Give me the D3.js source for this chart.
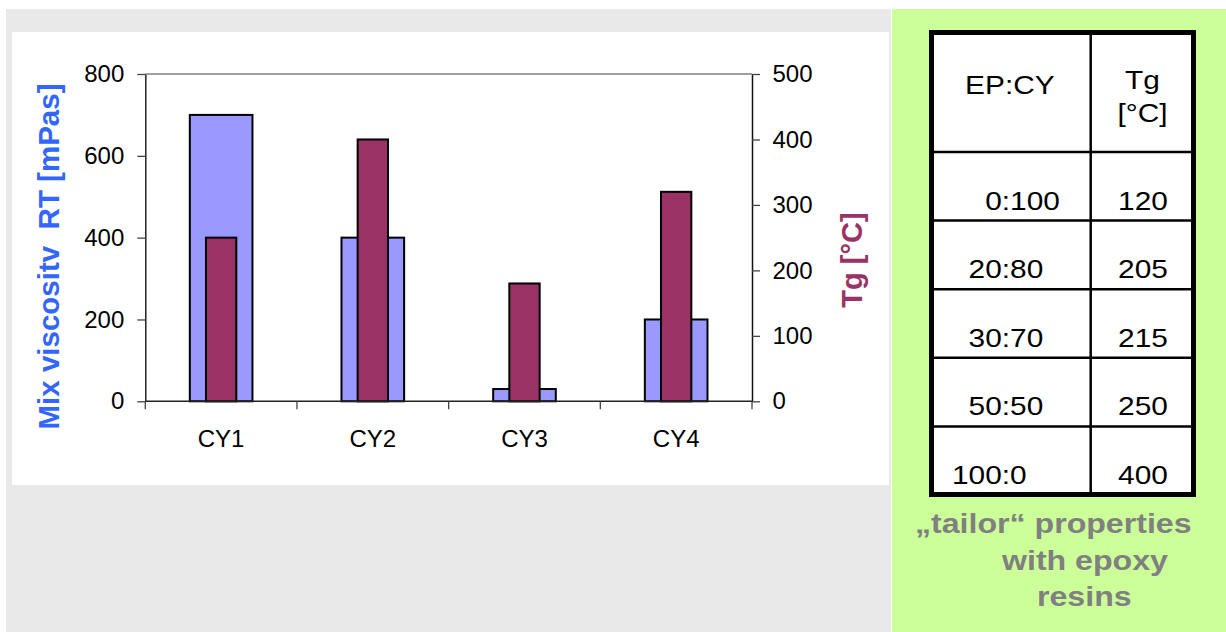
<!DOCTYPE html>
<html>
<head>
<meta charset="utf-8">
<script src="https://cdn.jsdelivr.net/npm/d3@7"></script>
<style>
  html, body { margin: 0; padding: 0; background: #ffffff; }
  svg { display: block; }
  text { font-family: "Liberation Sans", Arial, sans-serif; }
</style>
</head>
<body>
<svg id="chart" width="1226" height="632"></svg>
<script>
// Chart data
const categories = ["CY1", "CY2", "CY3", "CY4"];
const viscosity = [700, 400, 30, 200];      // mPas, left axis
const tg = [250, 400, 180, 320];            // °C, right axis
const leftTicks = [0, 200, 400, 600, 800];
const rightTicks = [0, 100, 200, 300, 400, 500];

// Table data (EP:CY mixing ratio vs. Tg)
const ratioLabels = ["    0:100", "  20:80", "  30:70", "  50:50", "100:0"];
const ratioTg = [120, 205, 215, 250, 400];
const tableHeader = ["EP:CY", "Tg", "[°C]"];
const footerLines = ["„tailor“ properties", "with epoxy", "resins"];

const svg = d3.select("#chart");

// Backgrounds
svg.append("rect").attr("x", 6).attr("y", 9).attr("width", 885).attr("height", 623).attr("fill", "#e9e9e9");
svg.append("rect").attr("x", 12).attr("y", 32).attr("width", 877).attr("height", 453).attr("fill", "#ffffff");
svg.append("rect").attr("x", 892).attr("y", 9).attr("width", 334).attr("height", 623).attr("fill", "#ccff99");

// Plot area
const plot = { left: 145.3, right: 752, top: 74, bottom: 401.3 };

const x = d3.scaleBand().domain(categories).range([plot.left, plot.right]).paddingInner(0).paddingOuter(0);
const yL = d3.scaleLinear().domain([0, 800]).range([plot.bottom, plot.top]);
const yR = d3.scaleLinear().domain([0, 500]).range([plot.bottom, plot.top]);

// Top border of plot area
svg.append("line")
  .attr("x1", plot.left).attr("x2", plot.right)
  .attr("y1", plot.top).attr("y2", plot.top)
  .attr("stroke", "#808080").attr("stroke-width", 1.5);

// Viscosity bars (wide)
const wideW = x.step() * 0.413;
svg.append("g").selectAll("rect").data(categories).join("rect")
  .attr("x", (d) => x(d) + x.bandwidth() / 2 - wideW / 2)
  .attr("y", (d, i) => yL(viscosity[i]))
  .attr("width", wideW)
  .attr("height", (d, i) => plot.bottom - yL(viscosity[i]))
  .attr("fill", "#9999ff")
  .attr("stroke", "#000").attr("stroke-width", 2);

// Tg bars (narrow, in front)
const narrowW = x.step() * 0.2;
svg.append("g").selectAll("rect").data(categories).join("rect")
  .attr("x", (d) => x(d) + x.bandwidth() / 2 - narrowW / 2)
  .attr("y", (d, i) => yR(tg[i]))
  .attr("width", narrowW)
  .attr("height", (d, i) => plot.bottom - yR(tg[i]))
  .attr("fill", "#993366")
  .attr("stroke", "#000").attr("stroke-width", 2);

// Left axis
const axL = svg.append("g").attr("transform", `translate(${plot.left},0)`)
  .call(d3.axisLeft(yL).tickValues(leftTicks).tickSizeInner(8).tickSizeOuter(0).tickPadding(13));
axL.select(".domain").attr("stroke", "#222").attr("stroke-width", 1.5);
axL.selectAll(".tick line").attr("stroke", "#444").attr("stroke-width", 1.3);
axL.selectAll(".tick text").attr("font-size", 24).attr("fill", "#000")
  .attr("font-family", "Liberation Sans, Arial, sans-serif");

// Right axis
const axR = svg.append("g").attr("transform", `translate(${plot.right},0)`)
  .call(d3.axisRight(yR).tickValues(rightTicks).tickSizeInner(8).tickSizeOuter(0).tickPadding(12.5));
axR.select(".domain").attr("stroke", "#111").attr("stroke-width", 1.5);
axR.selectAll(".tick line").attr("stroke", "#444").attr("stroke-width", 1.3);
axR.selectAll(".tick text").attr("font-size", 24).attr("fill", "#000")
  .attr("font-family", "Liberation Sans, Arial, sans-serif");

// Category axis: line, boundary ticks and labels
svg.append("line")
  .attr("x1", plot.left).attr("x2", plot.right)
  .attr("y1", plot.bottom).attr("y2", plot.bottom)
  .attr("stroke", "#222").attr("stroke-width", 1.5);
const bounds = categories.map((c) => x(c)).concat([plot.right]);
svg.append("g").selectAll("line").data(bounds).join("line")
  .attr("x1", (d) => d).attr("x2", (d) => d)
  .attr("y1", plot.bottom).attr("y2", plot.bottom + 8)
  .attr("stroke", "#444").attr("stroke-width", 1.3);
svg.append("g").selectAll("text").data(categories).join("text")
  .attr("x", (d) => x(d) + x.bandwidth() / 2)
  .attr("y", 447)
  .attr("text-anchor", "middle")
  .attr("font-size", 24)
  .attr("fill", "#000")
  .text((d) => d);

// Axis titles
svg.append("text")
  .attr("transform", `translate(59,256.5) rotate(-90)`)
  .attr("text-anchor", "middle")
  .attr("font-size", 29.5).attr("font-weight", "bold")
  .attr("fill", "#3366ff")
  .attr("xml:space", "preserve")
  .style("white-space", "pre")
  .text("Mix viscositv  RT [mPas]");
svg.append("text")
  .attr("transform", `translate(862,260) rotate(-90)`)
  .attr("text-anchor", "middle")
  .attr("font-size", 29).attr("font-weight", "bold")
  .attr("fill", "#993366")
  .text("Tg [°C]");

// Table
const tbl = { left: 929, right: 1196, top: 30, bottom: 497, col: 1090.7 };
const rows = d3.scaleBand().domain(ratioLabels).range([152, 495]);

svg.append("rect")
  .attr("x", tbl.left).attr("y", tbl.top)
  .attr("width", tbl.right - tbl.left).attr("height", tbl.bottom - tbl.top)
  .attr("fill", "#ffffff");

// inner grid
svg.append("line").attr("x1", tbl.col).attr("x2", tbl.col).attr("y1", tbl.top).attr("y2", tbl.bottom)
  .attr("stroke", "#000").attr("stroke-width", 2.5);
svg.append("g").selectAll("line").data(ratioLabels).join("line")
  .attr("x1", tbl.left).attr("x2", tbl.right)
  .attr("y1", (d) => rows(d)).attr("y2", (d) => rows(d))
  .attr("stroke", "#000").attr("stroke-width", 2.5);

// outer border
svg.append("rect")
  .attr("x", tbl.left + 2.5).attr("y", tbl.top + 2.5)
  .attr("width", tbl.right - tbl.left - 5).attr("height", tbl.bottom - tbl.top - 5)
  .attr("fill", "none").attr("stroke", "#000").attr("stroke-width", 5);

// horizontally widened text, as used in the side panel
function stretchedText(sel, tx, ty, anchor, str, size, weight, color, sx) {
  sel.append("text")
    .attr("transform", `translate(${tx},${ty}) scale(${sx},1)`)
    .attr("text-anchor", anchor)
    .attr("font-size", size)
    .attr("font-weight", weight)
    .attr("fill", color)
    .attr("xml:space", "preserve")
    .style("white-space", "pre")
    .text(str);
}

// header
stretchedText(svg, (tbl.left + tbl.col) / 2, 94, "middle", tableHeader[0], 25.5, "normal", "#000", 1.17);
stretchedText(svg, 1142.5, 88.5, "middle", tableHeader[1], 25.5, "normal", "#000", 1.17);
stretchedText(svg, 1142.5, 122, "middle", tableHeader[2], 25.5, "normal", "#000", 1.17);

// rows
ratioLabels.forEach((r, i) => {
  const base = rows(r) + 57.5;
  stretchedText(svg, 952, base, "start", r, 25.5, "normal", "#000", 1.17);
  stretchedText(svg, 1143, base, "middle", String(ratioTg[i]), 25.5, "normal", "#000", 1.17);
});

// footer note
const footX = [915, 1002, 1037];
const footY = [533, 570, 606];
footerLines.forEach((t, i) => {
  stretchedText(svg, footX[i], footY[i], "start", t, 27, "bold", "#808080", 1.19);
});
</script>
</body>
</html>
